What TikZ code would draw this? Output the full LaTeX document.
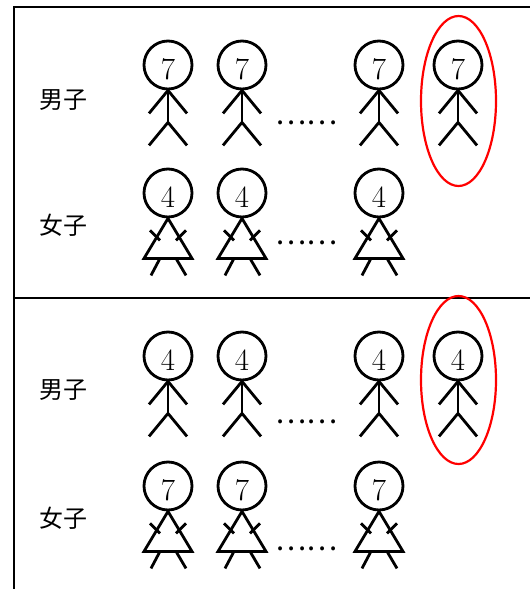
\RequirePackage{fix-cm}
\documentclass[tikz,border=0pt]{standalone}
\usepackage{fontspec}
\newfontfamily\cjk{Noto Sans CJK SC}
\usetikzlibrary{shapes.geometric}

\begin{document}
\begin{tikzpicture}[
    x=1pt, y=-1pt,
    line width=2.8pt,
    frame/.style={line width=1.6pt},
    head/.style={draw, circle, minimum size=48pt, inner sep=0pt, text height=29pt, text depth=0pt, font=\fontsize{31}{36}\selectfont},
    rowlabel/.style={font=\cjk\fontsize{24}{28}\selectfont},
    dots/.style={inner sep=0pt, text height=0pt, text depth=0pt, font=\cjk\fontsize{29.4}{32}\selectfont},
    pick/.style={draw=red, ellipse, line width=2.2pt, inner sep=0pt, minimum width=75pt},
    boy/.pic={
        \node[head] (-head) at (0,0) {#1};
        \draw (-head.south) -- ++(-19,23);
        \draw (-head.south) -- ++(19,23);
        \draw (-head.south) -- ++(0,32) coordinate (-hip);
        \draw (-hip) -- ++(-19,23);
        \draw (-hip) -- ++(19,23);
    },
    girl/.pic={
        \node[head] (-head) at (0,0) {#1};
        \coordinate (-neck) at (-head.south);
        \draw (-neck) -- ++(-24,40) -- ++(48,0) -- cycle;
        \draw ([shift={(-18,12)}]-neck) -- ++(10,10);
        \draw ([shift={(18,12)}]-neck) -- ++(-10,10);
        \draw ([shift={(-8,40)}]-neck) -- ++(-9,17);
        \draw ([shift={(8,40)}]-neck) -- ++(10,17);
    }
]
\useasboundingbox (0,0) rectangle (530,589);

% Frame
\draw[frame] (530,7) -| (14,589);
\draw[frame] (14,298) -- (530,298);

% First case
\node[rowlabel] (boysA) at (63,100) {男子};
\node[rowlabel] (girlsA) at (63,225) {女子};
\pic (boyA1) at (168,65) {boy=7};
\pic (boyA2) at (242,65) {boy=7};
\node[dots] (dotsboyA) at (306.5,124) {……};
\pic (boyA3) at (379,65) {boy=7};
\pic (boyA4) at (458,65) {boy=7};
\pic (girlA1) at (168,193) {girl=4};
\pic (girlA2) at (242,193) {girl=4};
\node[dots] (dotsgirlA) at (306.5,244) {……};
\pic (girlA3) at (379,193) {girl=4};
\node[pick, minimum height=170pt] (pickA) at (458.5,101) {};

% Second case
\node[rowlabel] (boysB) at (63,390) {男子};
\node[rowlabel] (girlsB) at (63,518) {女子};
\pic (boyB1) at (168,356) {boy=4};
\pic (boyB2) at (242,356) {boy=4};
\node[dots] (dotsboyB) at (306.5,423) {……};
\pic (boyB3) at (379,356) {boy=4};
\pic (boyB4) at (458,356) {boy=4};
\pic (girlB1) at (168,486) {girl=7};
\pic (girlB2) at (242,486) {girl=7};
\node[dots] (dotsgirlB) at (306.5,550) {……};
\pic (girlB3) at (379,486) {girl=7};
\node[pick, minimum height=168pt] (pickB) at (458.5,380) {};

\end{tikzpicture}
\end{document}
